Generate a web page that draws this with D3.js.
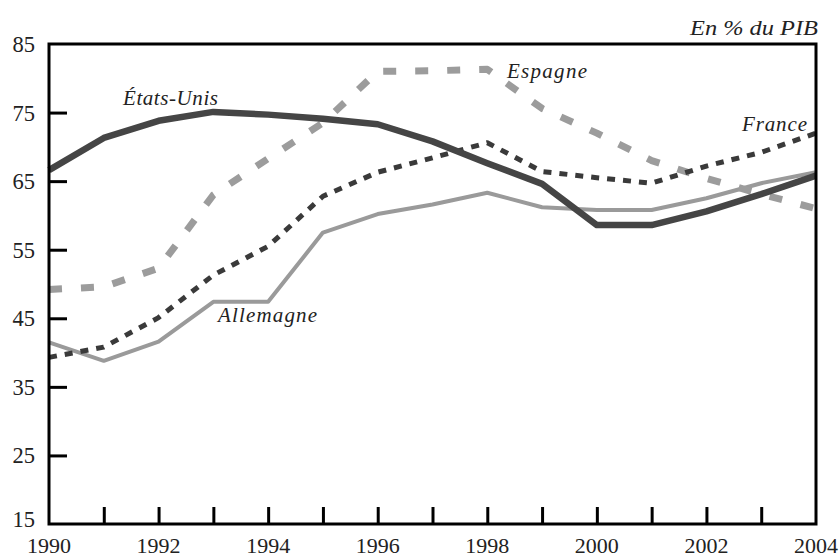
<!DOCTYPE html>
<html><head><meta charset="utf-8">
<script src="https://cdn.jsdelivr.net/npm/d3@7"></script>
<style>body{margin:0;background:#fff}svg{display:block}</style>
</head><body>
<svg id="c" width="840" height="558"></svg>
<script>
const years = [1990,1991,1992,1993,1994,1995,1996,1997,1998,1999,2000,2001,2002,2003,2004];
const etatsUnis = [66.6,71.3,73.8,75.1,74.7,74.1,73.3,70.8,67.6,64.6,58.6,58.6,60.6,63.1,65.8];
const espagne   = [49.2,49.6,52.3,63.0,68.3,73.5,81.0,81.1,81.3,75.6,72.0,68.0,65.4,63.1,61.0];
const france    = [39.3,40.8,45.1,51.3,55.5,62.8,66.3,68.4,70.6,66.4,65.5,64.7,67.2,69.2,72.0];
const allemagne = [41.5,38.8,41.6,47.4,47.4,57.5,60.2,61.6,63.3,61.2,60.8,60.8,62.5,64.7,66.3];
const yTicks = [15,25,35,45,55,65,75,85];
const xLabels = [1990,1992,1994,1996,1998,2000,2002,2004];
const unitLabel = "En % du PIB";

const svg = d3.select("#c");
const L=49, R=816, T=44, B=524;
const x = d3.scaleLinear().domain([1990,2004]).range([L,R]);
const y = d3.scaleLinear().domain([15,85]).range([B,T]);
const FONT = '"Liberation Serif"';

const series = [
  {name:"Allemagne", v:allemagne, color:"#9a9a9a", w:4, dash:null},
  {name:"Espagne", v:espagne, color:"#9c9c9c", w:7, dash:"13,19"},
  {name:"France", v:france, color:"#3a3a3a", w:5, dash:"8,8"},
  {name:"États-Unis", v:etatsUnis, color:"#454545", w:6.5, dash:null}
];
const line = d3.line().x((d,i)=>x(years[i])).y(d=>y(d));
series.forEach(s=>{
  svg.append("path").attr("d", line(s.v)).attr("fill","none")
    .attr("stroke", s.color).attr("stroke-width", s.w)
    .attr("stroke-dasharray", s.dash).attr("stroke-linejoin","round");
});

svg.append("rect").attr("x",L).attr("y",T).attr("width",R-L).attr("height",B-T)
  .attr("fill","none").attr("stroke","#000").attr("stroke-width",3);

const yAxis = d3.axisRight(y).tickValues(yTicks.filter(t=>t>15&&t<85)).tickSize(18).tickFormat("");
const ga = svg.append("g").attr("transform",`translate(${L},0)`).call(yAxis);
ga.select(".domain").remove();
ga.selectAll("line").attr("stroke","#000").attr("stroke-width",3);

const xAxis = d3.axisTop(x).tickValues(d3.range(1991,2004)).tickSize(17).tickFormat("");
const gx = svg.append("g").attr("transform",`translate(0,${B})`).call(xAxis);
gx.select(".domain").remove();
gx.selectAll("line").attr("stroke","#000").attr("stroke-width",3);

svg.selectAll(".yl").data(yTicks).enter().append("text")
  .attr("x",35).attr("y",d=>y(d)+(d===15?3:8)).attr("text-anchor","end")
  .style("font-family",FONT).style("font-size","22.5px").attr("fill","#222").text(d=>d);

svg.selectAll(".xl").data(xLabels).enter().append("text")
  .attr("x",d=>x(d)).attr("y",553).attr("text-anchor","middle")
  .style("font-family",FONT).style("font-size","22px").attr("fill","#222").text(d=>d);

svg.append("text").attr("x",690).attr("y",35)
  .attr("textLength",128).attr("lengthAdjust","spacingAndGlyphs")
  .style("font-family",FONT).style("font-style","italic").style("font-size","22px").attr("fill","#222").text(unitLabel);

const labs = [
  {t:"États-Unis", x:123, y:105, w:95},
  {t:"Espagne", x:507, y:78, w:80},
  {t:"France", x:742, y:131, w:65},
  {t:"Allemagne", x:218, y:322, w:99}
];
svg.selectAll(".sl").data(labs).enter().append("text")
  .attr("x",d=>d.x).attr("y",d=>d.y)
  .attr("textLength",d=>d.w).attr("lengthAdjust","spacing")
  .style("font-family",FONT).style("font-style","italic").style("font-size","21px")
  .attr("fill","#222").text(d=>d.t);
</script>
</body></html>
